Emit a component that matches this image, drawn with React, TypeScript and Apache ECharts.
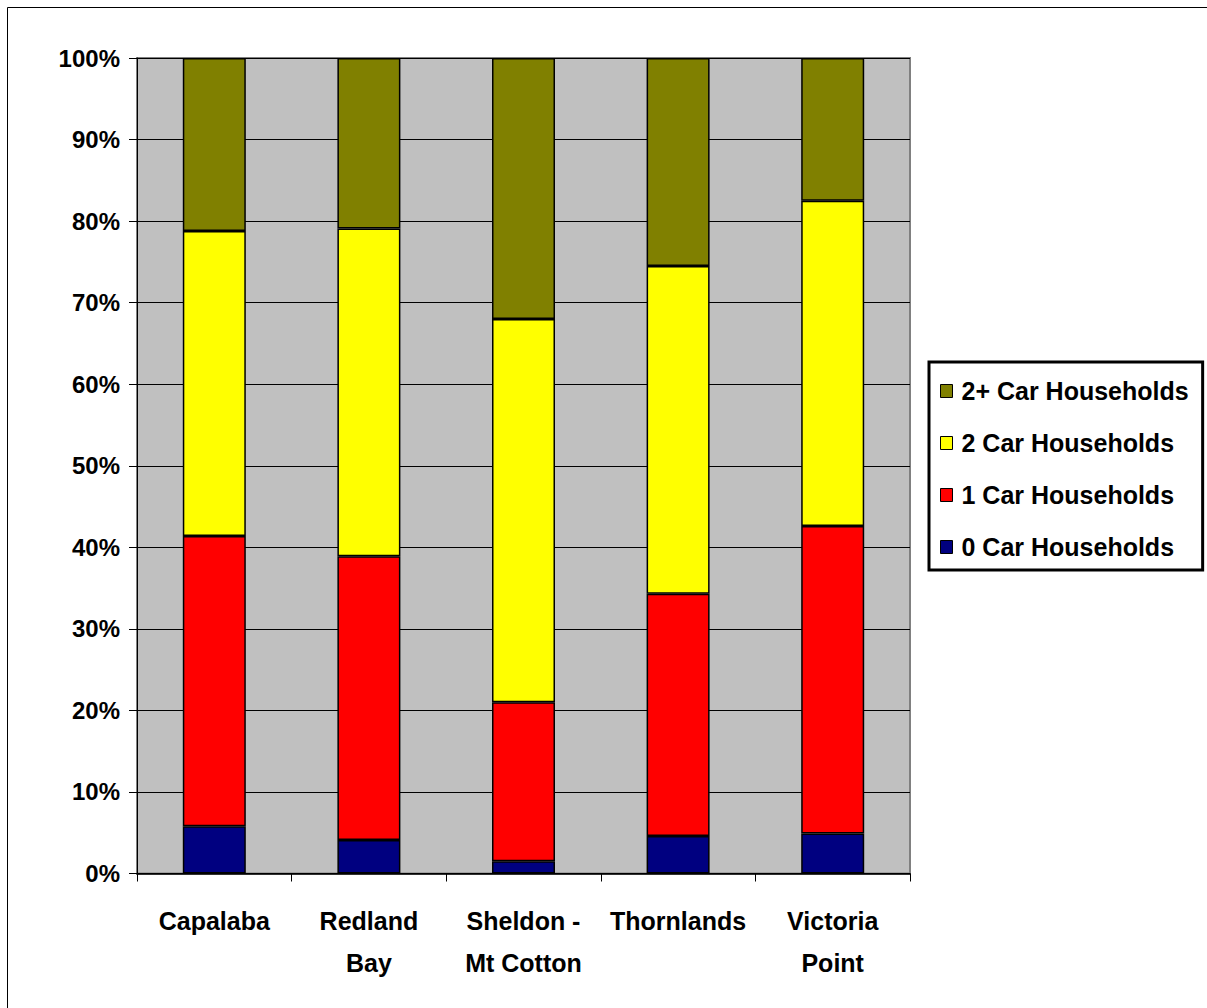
import React, { useEffect, useRef } from "react";
import * as echarts from "echarts";

const categories = ["Capalaba", "Redland\nBay", "Sheldon -\nMt Cotton", "Thornlands", "Victoria\nPoint"];
const zeroCar = [5.8, 4.1, 1.5, 4.6, 4.9];
const oneCar = [35.6, 34.8, 19.5, 29.7, 37.7];
const twoCar = [37.4, 40.2, 47.0, 40.2, 39.9];
const twoPlusCar = [21.2, 20.9, 32.0, 25.5, 17.5];
const seriesNames = ["0 Car Households", "1 Car Households", "2 Car Households", "2+ Car Households"];
const seriesColors = ["#000080", "#FF0000", "#FFFF00", "#808000"];

const FONT = "'Liberation Sans', Arial, sans-serif";

export default function App() {
  const ref = useRef<HTMLDivElement>(null);
  useEffect(() => {
    if (!ref.current) return;
    const chart = echarts.init(ref.current, undefined, { renderer: "svg" });
    const values = [zeroCar, oneCar, twoCar, twoPlusCar];
    chart.setOption({
      animation: false,
      backgroundColor: "#ffffff",
      textStyle: { fontFamily: FONT },
      graphic: [
        {
          type: "rect",
          shape: { x: 7.5, y: 7.5, width: 1220, height: 1020 },
          style: { fill: "none", stroke: "#000", lineWidth: 1 },
          silent: true,
          z: 0,
        },
        {
          type: "rect",
          shape: { x: 137, y: 58, width: 773, height: 815.5 },
          style: { fill: "#C0C0C0", stroke: "#808080", lineWidth: 2 },
          silent: true,
          z: -1,
        },
      ],
      grid: { left: 137, top: 58, right: 297, bottom: 134.5, containLabel: false },
      legend: {
        orient: "vertical",
        left: 929,
        top: 362,
        data: ["2+ Car Households", "2 Car Households", "1 Car Households", "0 Car Households"],
        padding: [14, 14, 8, 11],
        itemGap: 22,
        itemWidth: 12,
        itemHeight: 13,
        borderColor: "#000",
        borderWidth: 3,
        backgroundColor: "#fff",
        icon: "rect",
        textStyle: { fontFamily: FONT, fontWeight: "bold", fontSize: 25, color: "#000", padding: [0, 0, 0, 4], lineHeight: 30 },
        itemStyle: { borderColor: "#000", borderWidth: 1 },
      },
      xAxis: {
        type: "category",
        data: categories,
        boundaryGap: true,
        axisLine: { show: true, lineStyle: { color: "#000", width: 1.5 } },
        axisTick: { show: true, length: 8, alignWithLabel: false, lineStyle: { color: "#000" } },
        axisLabel: {
          margin: 26,
          fontFamily: FONT,
          fontWeight: "bold",
          fontSize: 25,
          lineHeight: 42,
          color: "#000",
          interval: 0,
        },
        splitLine: { show: false },
      },
      yAxis: {
        type: "value",
        min: 0,
        max: 100,
        interval: 10,
        axisLine: { show: true, lineStyle: { color: "#000" } },
        axisTick: { show: true, length: 8, lineStyle: { color: "#000" } },
        axisLabel: {
          margin: 17,
          fontFamily: FONT,
          fontWeight: "bold",
          fontSize: 24,
          color: "#000",
          formatter: (v: number) => v + "%",
        },
        splitLine: { show: true, lineStyle: { color: "#000", width: 1 } },
      },
      series: seriesNames.map((name, i) => ({
        name,
        type: "bar",
        stack: "total",
        barWidth: 63,
        data: values[i],
        itemStyle: { color: seriesColors[i], borderColor: "#000", borderWidth: 1.5 },
        emphasis: { disabled: true },
      })),
    });
    return () => chart.dispose();
  }, []);
  return (
    <div
      ref={ref}
      style={{ position: "fixed", left: 0, top: 0, width: 1207, height: 1008 }}
    />
  );
}
